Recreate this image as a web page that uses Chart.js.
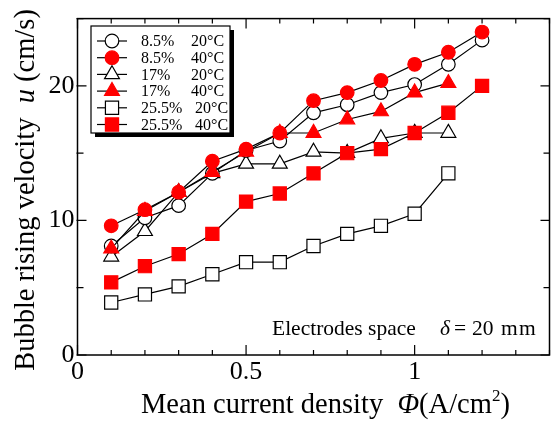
<!DOCTYPE html>
<html>
<head>
<meta charset="utf-8">
<script src="https://cdn.jsdelivr.net/npm/chart.js@4.4.0/dist/chart.umd.min.js"></script>
<style>
  html, body { margin: 0; padding: 0; background: #fff; overflow: hidden; }
  #wrap { width: 552px; height: 423px; overflow: hidden; position: relative; }
  #chart { position: absolute; left: 0; top: 0; }
</style>
</head>
<body>
<div id="wrap"><canvas id="chart" width="560" height="423"></canvas></div>
<script>
// current density (A/cm2)
const currentDensity = [0.1, 0.2, 0.3, 0.4, 0.5, 0.6, 0.7, 0.8, 0.9, 1.0, 1.1, 1.2];

// bubble rising velocity (cm/s)
const u85_20  = [8.1, 10.2, 11.1, 13.5, 15.2, 15.9, 18.0, 18.6, 19.5, 20.1, 21.6, 23.4];
const u85_40  = [9.6, 10.8, 12.1, 14.4, 15.3, 16.5, 18.9, 19.5, 20.4, 21.6, 22.5, 24.0];
const u17_20  = [7.3, 9.2, 12.1, 13.5, 14.2, 14.2, 15.1, 15.0, 16.1, 16.5, 16.5];
const u17_40  = [7.9, 10.7, 12.1, 13.6, 15.1, 16.5, 16.5, 17.5, 18.1, 19.5, 20.2];
const u255_20 = [3.9, 4.5, 5.1, 6.0, 6.9, 6.9, 8.1, 9.0, 9.6, 10.5, 13.5];
const u255_40 = [5.4, 6.6, 7.5, 9.0, 11.4, 12.0, 13.5, 15.0, 15.3, 16.5, 18.0, 20.0];

const legendConc = ['8.5%', '8.5%', '17%', '17%', '25.5%', '25.5%'];
const legendTemp = ['20°C', '40°C', '20°C', '40°C', '20°C', '40°C'];

const xTickLabels = { 0: '0', 0.5: '0.5', 1: '1' };
const yTickLabels = { 0: '0', 10: '10', 20: '20' };

const RED = '#ff0000';
const SERIF = '"Liberation Serif", "Times New Roman", serif';

const seriesValues = [u85_20, u85_40, u17_20, u17_40, u255_20, u255_40];
const seriesShapes = ['circle', 'circle', 'triangle', 'triangle', 'rect', 'rect'];
const seriesFilled = [false, true, false, true, false, true];
const shapeRadius = { circle: 6.8, triangle: 8.6, rect: 9.3 };

const toPoints = (vals) => vals.map((v, i) => ({ x: currentDensity[i], y: v }));

const datasets = seriesValues.map((vals, i) => ({
    label: legendConc[i] + ' ' + legendTemp[i],
    data: toPoints(vals),
    borderColor: '#000',
    borderWidth: 1.2,
    pointStyle: seriesShapes[i],
    pointRadius: shapeRadius[seriesShapes[i]],
    pointBackgroundColor: seriesFilled[i] ? RED : '#fff',
    pointBorderColor: seriesFilled[i] ? RED : '#000',
    pointBorderWidth: 1.2,
    order: seriesFilled[i] ? 0 : 1,
    tension: 0,
    fill: false
}));

function drawMarker(ctx, shape, filled, x, y) {
    const r = shapeRadius[shape];
    ctx.save();
    ctx.fillStyle = filled ? RED : '#fff';
    ctx.strokeStyle = filled ? RED : '#000';
    ctx.lineWidth = 1.2;
    ctx.beginPath();
    if (shape === 'circle') {
        ctx.arc(x, y, r, 0, Math.PI * 2);
    } else if (shape === 'rect') {
        const s = r * Math.SQRT1_2;
        ctx.rect(x - s, y - s, 2 * s, 2 * s);
    } else {
        ctx.moveTo(x, y - r);
        ctx.lineTo(x + r * Math.sin(Math.PI * 2 / 3), y - r * Math.cos(Math.PI * 2 / 3));
        ctx.lineTo(x + r * Math.sin(Math.PI * 4 / 3), y - r * Math.cos(Math.PI * 4 / 3));
        ctx.closePath();
    }
    ctx.fill();
    ctx.stroke();
    ctx.restore();
}

// frame + inward tick marks
const framePlugin = {
    id: 'framePlugin',
    beforeDatasetsDraw(chart) {
        const { ctx, chartArea: a, scales: { x, y } } = chart;
        ctx.save();
        ctx.strokeStyle = '#000';
        ctx.lineWidth = 1.2;
        x.ticks.forEach(t => {
            const px = x.getPixelForValue(t.value);
            const len = t.label ? 10 : 5;
            ctx.beginPath();
            ctx.moveTo(px, a.bottom); ctx.lineTo(px, a.bottom - len);
            ctx.moveTo(px, a.top); ctx.lineTo(px, a.top + len);
            ctx.stroke();
        });
        y.ticks.forEach(t => {
            const py = y.getPixelForValue(t.value);
            const len = t.label ? 9 : 6;
            ctx.beginPath();
            ctx.moveTo(a.left - 1, py); ctx.lineTo(a.left + len, py);
            ctx.moveTo(a.right, py); ctx.lineTo(a.right - len, py);
            ctx.stroke();
        });
        ctx.lineWidth = 1.5;
        ctx.strokeRect(a.left, a.top, a.right - a.left, a.bottom - a.top);
        ctx.restore();
    }
};

// legend box, note and axis titles
const textPlugin = {
    id: 'textPlugin',
    afterDraw(chart) {
        const { ctx } = chart;
        ctx.save();

        // legend
        const bx = 91, by = 26, bw = 139, bh = 107;
        ctx.fillStyle = '#000';
        ctx.fillRect(bx + 4, by + 4, bw, bh);
        ctx.fillStyle = '#fff';
        ctx.fillRect(bx, by, bw, bh);
        ctx.strokeStyle = '#000';
        ctx.lineWidth = 1.2;
        ctx.strokeRect(bx, by, bw, bh);
        ctx.font = '16px ' + SERIF;
        ctx.textBaseline = 'middle';
        legendConc.forEach((c, i) => {
            const ry = 41 + i * 16.7;
            ctx.strokeStyle = '#000';
            ctx.lineWidth = 1.2;
            ctx.beginPath();
            ctx.moveTo(97, ry); ctx.lineTo(127, ry);
            ctx.stroke();
            drawMarker(ctx, seriesShapes[i], seriesFilled[i], 112, ry);
            ctx.fillStyle = '#000';
            ctx.fillText(c, 141, ry + 1);
            ctx.fillText(legendTemp[i], c.length > 4 ? 195 : 191, ry + 1);
        });

        // electrodes space note
        ctx.textBaseline = 'alphabetic';
        ctx.fillStyle = '#000';
        ctx.font = '21.5px ' + SERIF;
        ctx.fillText('Electrodes space', 272, 335);
        ctx.font = 'italic 21.5px ' + SERIF;
        ctx.fillText('δ', 440, 335);
        ctx.font = '21.5px ' + SERIF;
        ctx.fillText('=', 454, 335);
        ctx.fillText('20', 472, 335);
        ctx.fillText('m', 501, 335);
        ctx.fillText('m', 519, 335);

        // x title
        let px = 141;
        const parts = [
            ['28.5px', 'Mean current density  ', 0],
            ['italic 28.5px', 'Φ', 0],
            ['28.5px', '(A/cm', 0],
            ['17px', '2', -12],
            ['28.5px', ')', 0]
        ];
        parts.forEach(([f, s, dy]) => {
            ctx.font = f + ' ' + SERIF;
            ctx.fillText(s, px, 413 + dy);
            px += ctx.measureText(s).width;
        });

        // y title (rotated)
        const yparts = [
            ['28.5px', 'Bubble rising velocity  '],
            ['italic 28.5px', 'u'],
            ['28.5px', ' (cm/s)']
        ];
        let total = 0;
        yparts.forEach(([f, s]) => { ctx.font = f + ' ' + SERIF; total += ctx.measureText(s).width; });
        ctx.translate(34, 190);
        ctx.rotate(-Math.PI / 2);
        let ty = -total / 2;
        yparts.forEach(([f, s]) => {
            ctx.font = f + ' ' + SERIF;
            ctx.fillText(s, ty, 0);
            ty += ctx.measureText(s).width;
        });
        ctx.restore();
    }
};

const tickFont = { family: SERIF, size: 26 };
const nearKey = (labels, v) => {
    const k = Object.keys(labels).find(key => Math.abs(parseFloat(key) - v) < 1e-6);
    return k !== undefined ? labels[k] : '';
};

new Chart(document.getElementById('chart'), {
    type: 'line',
    data: { datasets },
    options: {
        responsive: false,
        animation: false,
        layout: { padding: { top: 15, right: 5, left: 0, bottom: 0 } },
        plugins: { legend: { display: false }, tooltip: { enabled: false } },
        scales: {
            x: {
                type: 'linear',
                min: 0, max: 1.4,
                border: { display: false },
                grid: { display: false, drawTicks: false },
                ticks: {
                    stepSize: 0.1, autoSkip: false, maxRotation: 0,
                    padding: 2, color: '#000', font: tickFont,
                    callback: (v) => nearKey(xTickLabels, v)
                },
                afterFit: (s) => { s.height = 68; }
            },
            y: {
                min: 0, max: 25,
                border: { display: false },
                grid: { display: false, drawTicks: false },
                ticks: {
                    stepSize: 5, autoSkip: false,
                    padding: 3, color: '#000', font: tickFont,
                    callback: (v) => nearKey(yTickLabels, v)
                },
                afterFit: (s) => { s.width = 77.5; }
            }
        }
    },
    plugins: [framePlugin, textPlugin]
});
</script>
</body>
</html>
